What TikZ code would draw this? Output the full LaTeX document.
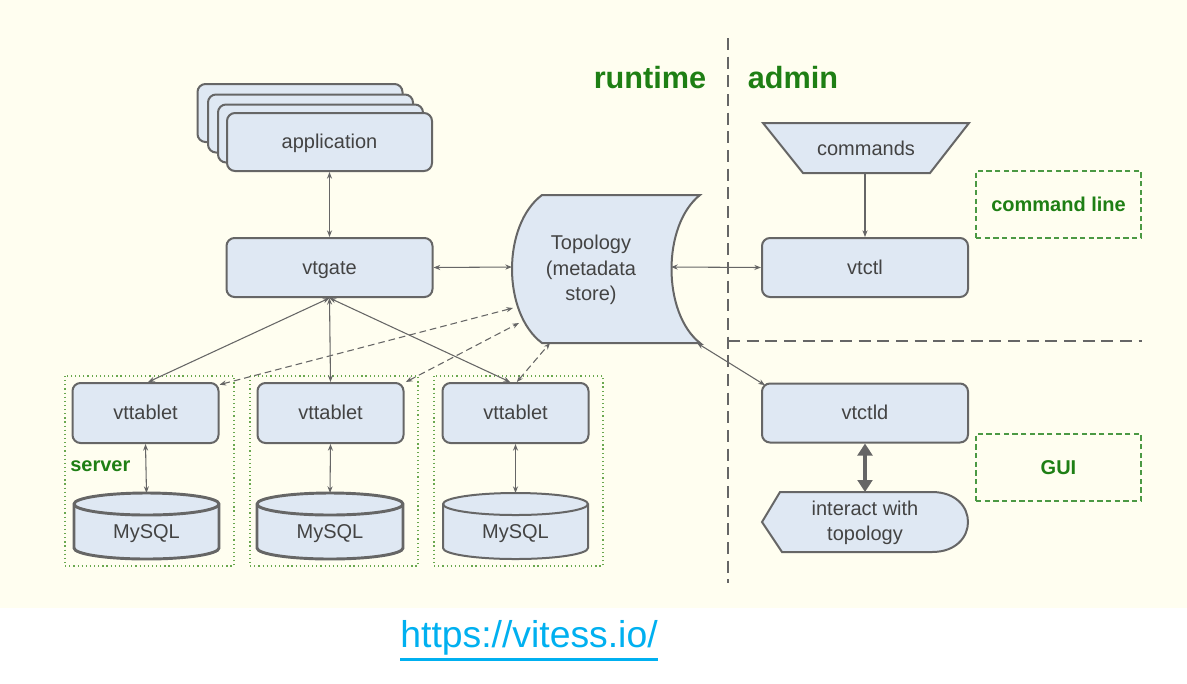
\documentclass[tikz,border=0pt]{standalone}
\usepackage{fontspec}
\setmainfont{Liberation Sans}
\usetikzlibrary{arrows.meta}
\definecolor{bg}{HTML}{FFFEF0}
\definecolor{fillb}{HTML}{DFE8F3}
\definecolor{edge}{HTML}{666666}
\definecolor{txt}{HTML}{434343}
\definecolor{grn}{HTML}{1E7F14}
\definecolor{grnl}{HTML}{6AA84F}
\definecolor{linkc}{HTML}{00B0F0}
\begin{document}
\begin{tikzpicture}[x=0.75pt,y=-0.75pt,
  box/.style={draw=edge, line width=1.5pt, fill=fillb, rounded corners=6pt, text=txt,
    font=\fontsize{15}{18}\selectfont, inner sep=0pt, text height=12pt, text depth=2pt},
  appbox/.style={box, minimum width=153.75pt, minimum height=43.5pt},
  wbox/.style={box, minimum width=154.5pt, minimum height=44.25pt},
  tbox/.style={box, minimum width=109.5pt, minimum height=45pt},
  shp/.style={draw=edge, line width=1.5pt, fill=fillb},
  lbl/.style={text=txt, font=\fontsize{15}{19}\selectfont, align=center, inner sep=0pt},
  conn/.style={draw=edge, line width=0.8pt, {Stealth[length=5pt,width=3.8pt]}-{Stealth[length=5pt,width=3.8pt]}},
  dconn/.style={conn, dash pattern=on 5pt off 3pt},
  grp/.style={draw=grnl, line width=0.9pt, dash pattern=on 0.9pt off 2.2pt},
  gbox/.style={draw=grn!80!white, line width=0.9pt, dash pattern=on 4pt off 2.5pt,
    text=grn, font=\fontsize{15}{18}\selectfont\bfseries, minimum width=123.75pt, minimum height=50.25pt, inner sep=0pt},
  glbl/.style={text=grn, font=\fontsize{15}{18}\selectfont\bfseries, inner sep=0pt},
  divider/.style={draw=edge, line width=1.5pt, dash pattern=on 9pt off 5pt}
]
\useasboundingbox (0,0) rectangle (1187,683);
\fill[white] (0,0) rectangle (1187,683);
\fill[bg] (0,0) rectangle (1187,608);

% dividers
\draw[divider] (728,38) -- (728,583);
\draw[divider] (728,341) -- (1142,341);
\node[glbl, font=\fontsize{23}{26}\selectfont\bfseries] (rt) at (650,78) {runtime};
\node[glbl, font=\fontsize{23}{26}\selectfont\bfseries] (ad) at (793,78) {admin};

% server groups
\draw[grp] (65,376) rectangle (234,566);
\draw[grp] (250,376) rectangle (418,566);
\draw[grp] (434,376) rectangle (603,566);
\node[glbl, anchor=west] (srv) at (70,466) {server};

% application stack
\node[appbox] (app1) at (300,113) {};
\node[appbox] (app2) at (310.5,123.5) {};
\node[appbox] (app3) at (320.5,133.5) {};
\node[appbox] (app) at (329.5,142) {application};

\node[wbox] (vtgate) at (329.5,267.5) {vtgate};
\node[wbox] (vtctl) at (865,267.5) {vtctl};
\node[wbox] (vtctld) at (865,413) {vtctld};

\node[tbox] (vt1) at (145.5,413) {vttablet};
\node[tbox] (vt2) at (330.5,413) {vttablet};
\node[tbox] (vt3) at (515.5,413) {vttablet};

% topology
\filldraw[shp] (542,195) -- (700,195) .. controls (662,225) and (662,313) .. (700,343)
  -- (542,343) .. controls (502,313) and (502,225) .. (542,195) -- cycle;
\node[lbl] (topo) at (591,270) {Topology\\(metadata\\store)};
\coordinate (topoL) at (512,267);
\coordinate (topoR) at (671,267);
\coordinate (topoD1) at (513,308);
\coordinate (topoD2) at (519,323);
\coordinate (topoBL) at (550,343);
\coordinate (topoBR) at (697,343);

% commands
\filldraw[shp] (763,123) -- (969,123) -- (930,173) -- (803,173) -- cycle;
\node[lbl] (cmd) at (866,148) {commands};
\coordinate (cmdB) at (865,173);

% interact with topology
\filldraw[shp] (780,492) -- (932,492) .. controls (980,492) and (980,552) .. (932,552)
  -- (782,552) -- (762,522) -- cycle;
\node[lbl] (inter) at (865,523) {interact with\\topology};
\coordinate (interT) at (865,492);

% MySQL cylinders
\filldraw[shp, line width=2.2pt] (74,504) -- (74,548) arc[start angle=180,end angle=360,x radius=54.375pt,y radius=8.25pt]
  -- (219,504) arc[start angle=0,end angle=180,x radius=54.375pt,y radius=8.25pt] -- cycle;
\draw[edge, line width=2.2pt] (74,504) arc[start angle=180,end angle=360,x radius=54.375pt,y radius=8.25pt];
\filldraw[shp, line width=2.2pt] (257,504) -- (257,548) arc[start angle=180,end angle=360,x radius=54.75pt,y radius=8.25pt]
  -- (403,504) arc[start angle=0,end angle=180,x radius=54.75pt,y radius=8.25pt] -- cycle;
\draw[edge, line width=2.2pt] (257,504) arc[start angle=180,end angle=360,x radius=54.75pt,y radius=8.25pt];
\filldraw[shp] (443,504) -- (443,548) arc[start angle=180,end angle=360,x radius=54.375pt,y radius=8.25pt]
  -- (588,504) arc[start angle=0,end angle=180,x radius=54.375pt,y radius=8.25pt] -- cycle;
\draw[edge, line width=1.5pt] (443,504) arc[start angle=180,end angle=360,x radius=54.375pt,y radius=8.25pt];
\node[lbl] (my1) at (146.5,534) {MySQL};
\node[lbl] (my2) at (330,534) {MySQL};
\node[lbl] (my3) at (515.5,534) {MySQL};
\coordinate (my1T) at (146.5,493);
\coordinate (my2T) at (330,493);
\coordinate (my3T) at (515.5,493);

% green label boxes
\node[gbox] (cl) at (1058.5,204.5) {command line};
\node[gbox] (gui) at (1058.5,467.5) {GUI};

% connectors
\draw[conn] (app.south) -- (vtgate.north);
\draw[conn] (vtgate.east) -- (topoL);
\draw[conn] (topoR) -- (vtctl.west);
\draw[draw=edge, line width=0.8pt, -{Stealth[length=5pt,width=3.8pt]}] (cmdB) -- (vtctl.north);
\draw[conn] (topoBR) -- ([xshift=3pt,yshift=-2pt]vtctld.north west);
\draw[draw=edge, line width=2.6pt, {Triangle[length=9pt,width=11pt]}-{Triangle[length=9pt,width=11pt]}] (vtctld.south) -- (interT);

\draw[conn] (vtgate.south) -- ([xshift=2pt]vt1.north);
\draw[conn] (vtgate.south) -- (vt2.north);
\draw[conn] (vtgate.south) -- ([xshift=-4pt]vt3.north);
\draw[dconn] ([yshift=-2pt]vt1.north east) -- (topoD1);
\draw[dconn] ([xshift=1pt]vt2.north east) -- (topoD2);
\draw[dconn] ([xshift=1pt]vt3.north) -- (topoBL);

\draw[conn] (vt1.south) -- (my1T);
\draw[conn] (vt2.south) -- (my2T);
\draw[conn] (vt3.south) -- (my3T);

% link
\node[text=linkc, font=\fontsize{28}{32}\selectfont, inner sep=0pt] (url) at (529,638) {https://vitess.io/};
\draw[linkc, line width=2.2pt] ([yshift=-3pt]url.south west) -- ([yshift=-3pt]url.south east);
\end{tikzpicture}
\end{document}
